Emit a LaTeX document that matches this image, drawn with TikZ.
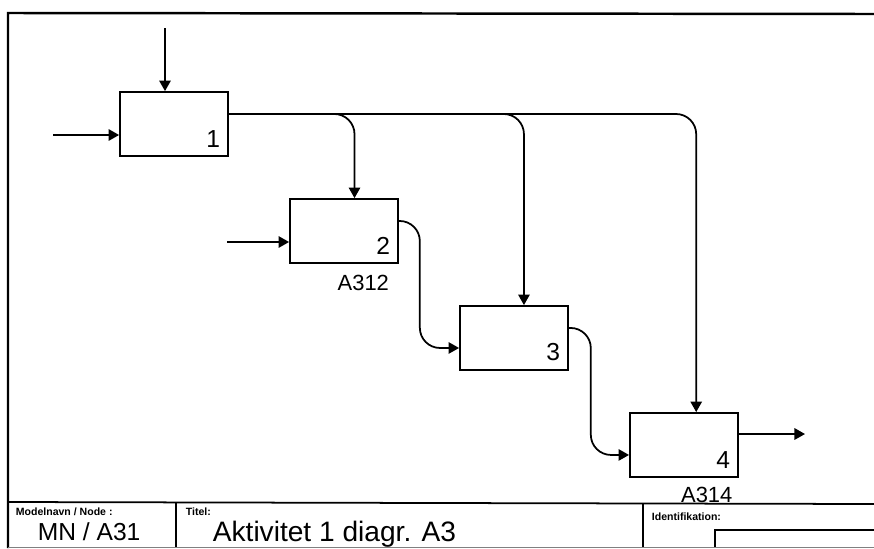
\documentclass[tikz,border=0pt]{standalone}
\usepackage{fontspec}
\setmainfont{Liberation Sans}
\usetikzlibrary{positioning, arrows.meta}

\begin{document}
\begin{tikzpicture}[x=0.02cm,y=-0.02cm,node distance=2.14cm and 3.4cm,on grid,line width=1pt,
    >={Triangle[length=6pt,width=6.5pt]},
    act/.style={draw,minimum width=2.16cm,minimum height=1.28cm,inner sep=0pt},
    num/.style={anchor=south east,inner sep=0pt,font=\fontsize{14}{14}\selectfont},
    ref/.style={anchor=north,inner sep=0pt,font=\fontsize{12.5}{12.5}\selectfont},
    flow/.style={->,rounded corners=11.5pt},
    small/.style={anchor=west,inner sep=0pt,font=\fontsize{6}{6}\selectfont\bfseries},
    big/.style={anchor=west,inner sep=0pt,font=\fontsize{14}{14}\selectfont}]
       \useasboundingbox (0,0) rectangle (874,548);

       % frame and title block
       \draw[line width=1.4pt] (8,548) -- (8,13) -- (874,14);
       \draw (8,502) -- (874,504);
       \draw (176,503) -- (176,548);
       \draw (643,504) -- (643,548);
       \draw (715,548) -- (715,530) -- (874,530);
       \draw[line width=0.5pt,gray] (8,547) -- (874,547);

       \node[small] (mlab) at (15,512) {Modelnavn / Node :};
       \node[big] (mval) at (37,532) {MN / A31};
       \node[small] (tlab) at (185,512) {Titel:};
       \node[big,font=\fontsize{16}{16}\selectfont] (tval) at (212,534) {Aktivitet 1 diagr. A3};
       \node[small] (ilab) at (651,517) {Identifikation:};

       % activities
       \node[act] (a1) at (174,124) {};
       \node[act] (a2) [below right=of a1] {};
       \node[act] (a3) [below right=of a2] {};
       \node[act] (a4) [below right=of a3] {};

       \node[num] (n1) at ([xshift=-4.5pt,yshift=5pt]a1.south east) {1};
       \node[num] (n2) at ([xshift=-4.5pt,yshift=5pt]a2.south east) {2};
       \node[num] (n3) at ([xshift=-4.5pt,yshift=5pt]a3.south east) {3};
       \node[num] (n4) at ([xshift=-4.5pt,yshift=5pt]a4.south east) {4};

       \node[ref] (r2) at ([xshift=11pt,yshift=-6pt]a2.south) {A312};
       \node[ref] (r4) at ([xshift=13pt,yshift=-5pt]a4.south) {A314};

       % inputs, control, output
       \coordinate (c1) at (165,28);
       \coordinate (i1) at (53,135);
       \coordinate (i2) at (227,242);
       \coordinate (o4) at (805,434);
       \draw[->] (c1) -- (c1 |- a1.north);
       \draw[->] (i1) -- (i1 -| a1.west);
       \draw[->] (i2) -- (i2 -| a2.west);
       \draw[->] (a4.east |- o4) -- (o4);

       % flows between activities
       \draw[flow] ([yshift=5.7pt]a1.east) -| ([xshift=6pt]a2.north);
       \draw[flow] ([yshift=5.7pt]a1.east) -| ([xshift=5.7pt]a3.north);
       \draw[flow] ([yshift=5.7pt]a1.east) -| ([xshift=7pt]a4.north);
       \draw[flow] ([yshift=5.7pt]a2.east) -- ++(21,0) |- ([yshift=-5.7pt]a3.west);
       \draw[flow] ([yshift=5.7pt]a3.east) -- ++(22,0) |- ([yshift=-5.7pt]a4.west);
    \end{tikzpicture}
\end{document}
